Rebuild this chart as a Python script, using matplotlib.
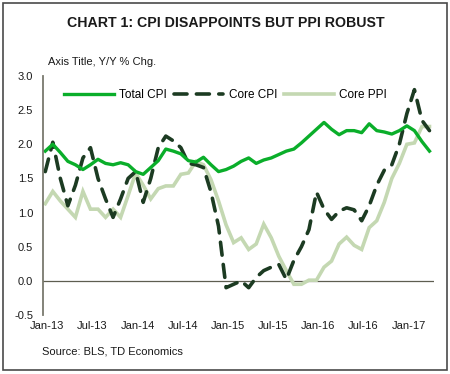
import matplotlib
matplotlib.use("Agg")
import matplotlib.pyplot as plt
from matplotlib.patches import Rectangle
import numpy as np

plt.rcParams['font.family'] = ['Liberation Sans', 'DejaVu Sans']

# Monthly data Jan-13 .. Apr-17
total_cpi = [1.9, 2.0, 1.88, 1.75, 1.7, 1.63, 1.7, 1.78, 1.72, 1.7, 1.73, 1.7,
             1.6, 1.56, 1.66, 1.76, 1.93, 1.9, 1.86, 1.76, 1.74, 1.81, 1.7, 1.6,
             1.63, 1.68, 1.75, 1.8, 1.72, 1.77, 1.8, 1.85, 1.9, 1.93, 2.02, 2.12,
             2.22, 2.32, 2.22, 2.14, 2.2, 2.2, 2.17, 2.3, 2.2, 2.18, 2.15, 2.2,
             2.27, 2.2, 2.04, 1.9]
core_cpi = [1.6, 2.03, 1.5, 1.1, 1.4, 1.8, 1.95, 1.5, 1.2, 0.93, 1.2, 1.5,
            1.6, 1.15, 1.5, 1.95, 2.12, 2.05, 1.95, 1.72, 1.7, 1.66, 1.3, 0.8,
            -0.1, -0.05, 0.0, -0.1, 0.05, 0.15, 0.2, 0.24, 0.02, 0.3, 0.5, 0.75,
            1.3, 1.05, 0.9, 1.02, 1.07, 1.04, 0.88, 1.1, 1.4, 1.62, 1.7, 2.0,
            2.45, 2.8, 2.35, 2.2]
core_ppi = [1.13, 1.31, 1.17, 1.05, 0.93, 1.31, 1.05, 1.05, 0.93, 1.05, 0.93, 1.25,
            1.58, 1.4, 1.2, 1.35, 1.39, 1.39, 1.56, 1.58, 1.75, 1.7, 1.48, 1.17,
            0.82, 0.56, 0.63, 0.46, 0.54, 0.83, 0.63, 0.36, 0.15, -0.05, -0.05, 0.01,
            0.01, 0.2, 0.29, 0.54, 0.64, 0.52, 0.46, 0.78, 0.88, 1.15, 1.5, 1.72,
            2.0, 2.02, 2.26, 2.26]
tick_labels = ['Jan-13', 'Jul-13', 'Jan-14', 'Jul-14', 'Jan-15', 'Jul-15',
               'Jan-16', 'Jul-16', 'Jan-17']
series_names = ['Total CPI', 'Core CPI', 'Core PPI']

x = np.arange(len(total_cpi))

fig = plt.figure(figsize=(4.5, 3.74), dpi=100)
ax = fig.add_axes([43/450, 1-315/374, (434-43)/450, (315-76)/374])

c_total = '#0aae2a'
c_core = '#1c3b22'
c_ppi = '#c4d8b2'

l3, = ax.plot(x, core_ppi, color=c_ppi, lw=2.6, solid_joinstyle='miter', label=series_names[2])
l2, = ax.plot(x, core_cpi, color=c_core, lw=2.6, dashes=(3.6, 2.6), dash_capstyle='round',
              label=series_names[1])
l1, = ax.plot(x, total_cpi, color=c_total, lw=2.4, label=series_names[0])

ax.axhline(0, color='#5e5e50', lw=0.9, zorder=1)

ax.set_ylim(-0.5, 3.0)
ax.set_xlim(-0.3, 51.6)
ax.set_yticks(np.arange(-0.5, 3.01, 0.5))
ax.set_yticklabels([f'{v:.1f}' for v in np.arange(-0.5, 3.01, 0.5)])
ax.set_xticks(np.arange(0, 49, 6) + 0.25)
ax.set_xticklabels(tick_labels)
ax.tick_params(axis='both', length=0, labelsize=8, colors='#1a1a1a')
ax.tick_params(axis='y', pad=7)
ax.tick_params(axis='x', pad=4)
for s in ['top', 'right', 'bottom']:
    ax.spines[s].set_visible(False)
ax.spines['left'].set_color('#7a7a6e')
ax.spines['left'].set_linewidth(1.3)

fig.legend(handles=[l1, l2, l3], labels=series_names, loc='center left',
           bbox_to_anchor=(64/450, 1-95/374), ncol=3, frameon=False,
           fontsize=8.5, handlelength=4.2, handletextpad=0.45, columnspacing=0.6,
           borderpad=0, borderaxespad=0)

fig.text(226/450, 1-23/374, 'CHART 1: CPI DISAPPOINTS BUT PPI ROBUST', ha='center', va='center',
         fontsize=10.2, fontweight='bold', color='#1a1a1a')
fig.text(48/450, 1-62/374, 'Axis Title, Y/Y % Chg.', ha='left', va='center', fontsize=8,
         color='#1a1a1a')
fig.text(42/450, 1-352/374, 'Source: BLS, TD Economics', ha='left', va='center', fontsize=8,
         color='#1a1a1a')

fig.patches.append(Rectangle((3/450, 4/374), 444/450, 367/374, transform=fig.transFigure,
                             fill=False, edgecolor='#4a4a4a', lw=1.2))

fig.savefig('out.png', dpi=100)
